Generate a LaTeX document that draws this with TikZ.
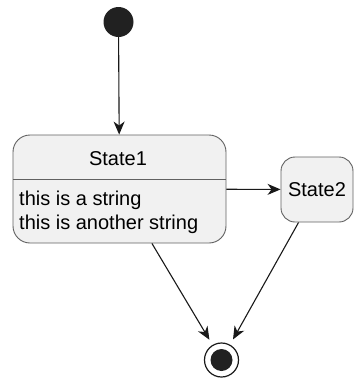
\documentclass[tikz,border=0pt]{standalone}
\usepackage{fontspec}
\setmainfont{Liberation Sans}
\usetikzlibrary{arrows.meta}

\begin{document}
\begin{tikzpicture}[
  x=1pt, y=-1pt,
  >={Stealth[length=13pt,width=11pt,inset=4pt]},
  state/.style={rectangle,draw=black!62,fill=black!5.5,line width=0.9pt,inner sep=0pt},
  flow/.style={->,draw=black!90,line width=1.1pt},
  lbl/.style={inner sep=0pt,font=\fontsize{20}{24}\selectfont}
]
  \useasboundingbox (0,0) rectangle (356,378);
  \node[circle,fill=black!87,minimum size=30pt,inner sep=0pt] (start) at (118.5,22) {};
  \node[state,rounded corners=17pt,minimum width=213pt,minimum height=108pt] (s1) at (119.5,189) {};
  \coordinate (sep) at (0,179);
  \draw[black!62,line width=0.9pt] (s1.west |- sep) -- (s1.east |- sep);
  \node[lbl] (s1title) at (118,159) {State1};
  \node[lbl,anchor=west,align=left] (s1desc) at (19,212) {this is a string\\this is another string};
  \node[state,lbl,rounded corners=14pt,minimum width=72pt,minimum height=65pt] (s2) at (317,189.5) {State2};
  \node[circle,draw=black!90,fill=white,line width=1.2pt,minimum size=34pt,inner sep=0pt] (final) at (221.5,360) {};
  \node[circle,fill=black!87,minimum size=22pt,inner sep=0pt] (finaldot) at (final) {};
  \draw[flow] (start) -- (s1);
  \draw[flow] (s1) -- (s2);
  \draw[flow,shorten >=6pt] (s1) -- (final);
  \draw[flow,shorten >=6pt] (s2) -- (final);
\end{tikzpicture}
\end{document}
